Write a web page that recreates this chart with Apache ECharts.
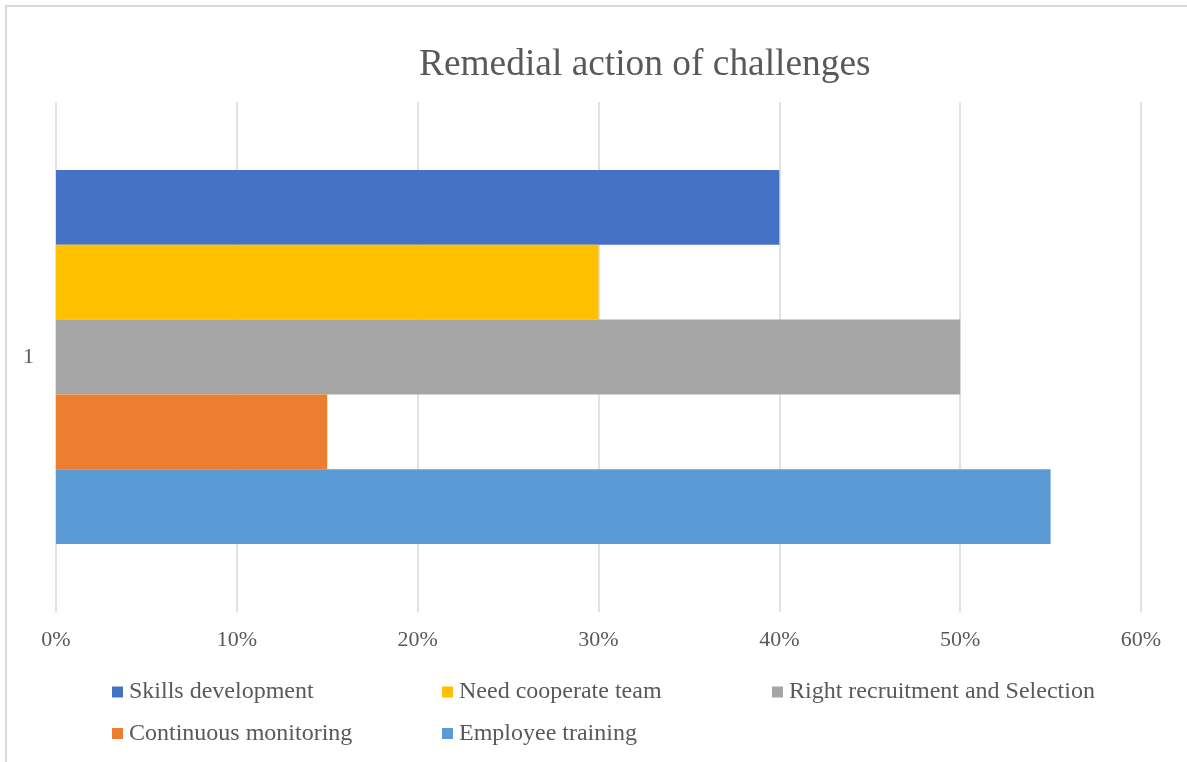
<!DOCTYPE html>
<html>
<head>
<meta charset="utf-8">
<script src="https://cdn.jsdelivr.net/npm/echarts@6/dist/echarts.min.js"></script>
<style>
html,body{margin:0;padding:0;background:#fff;}
#chart{width:1187px;height:762px;}
</style>
</head>
<body>
<div id="chart"></div>
<script>
const titleText = 'Remedial action of challenges';
const categories = ['1'];
const seriesNames = ['Skills development', 'Need cooperate team', 'Right recruitment and Selection', 'Continuous monitoring', 'Employee training'];
const seriesValues = [[0.40], [0.30], [0.50], [0.15], [0.55]];
const seriesColors = ['#4472C4', '#FFC000', '#A5A5A5', '#ED7D31', '#5B9BD5'];
const xTicks = { min: 0, max: 0.6, interval: 0.1 };

const FONT = 'Liberation Serif';
const GRAY = '#595959';

// legend item positions (marker left x, row center y)
const legendPos = [[112, 692], [442, 692], [772, 692], [112, 733.5], [442, 733.5]];

const chart = echarts.init(document.getElementById('chart'), null, { renderer: 'canvas' });

const legends = seriesNames.map((n, i) => ({
  data: [n],
  left: legendPos[i][0],
  top: legendPos[i][1] - 12,
  padding: 0,
  icon: 'rect',
  itemWidth: 11,
  itemHeight: 11,
  selectedMode: false,
  textStyle: { fontFamily: FONT, fontSize: 24, color: GRAY, lineHeight: 24, padding: [0, 0, 0, 1] }
}));

chart.setOption({
  animation: false,
  backgroundColor: '#fff',
  title: {
    text: titleText,
    left: 419,
    top: 45,
    padding: 0,
    textStyle: { fontFamily: FONT, fontSize: 37.4, fontWeight: 'normal', color: GRAY, lineHeight: 40 }
  },
  legend: legends,
  grid: { left: 56, right: 46, top: 102, bottom: 150, containLabel: false },
  xAxis: {
    type: 'value',
    min: xTicks.min, max: xTicks.max, interval: xTicks.interval,
    axisLine: { show: false },
    axisTick: { show: false },
    splitLine: { show: true, lineStyle: { color: '#D9D9D9', width: 1.5 } },
    axisLabel: {
      margin: 17,
      fontFamily: FONT, fontSize: 22, color: GRAY, lineHeight: 22,
      formatter: v => Math.round(v * 100) + '%'
    }
  },
  yAxis: {
    type: 'category',
    data: categories,
    axisLine: { show: false },
    axisTick: { show: false },
    axisLabel: { margin: 22, fontFamily: FONT, fontSize: 22, color: GRAY }
  },
  series: seriesNames.map((n, i) => ({
    name: n,
    type: 'bar',
    data: seriesValues[i],
    itemStyle: { color: seriesColors[i] },
    barGap: '0%',
    barCategoryGap: '26.7%'
  })),
  graphic: [{
    type: 'rect',
    silent: true,
    shape: { x: 6, y: 6, width: 1200, height: 800 },
    style: { fill: 'none', stroke: '#D9D9D9', lineWidth: 2 }
  }]
});
</script>
</body>
</html>
